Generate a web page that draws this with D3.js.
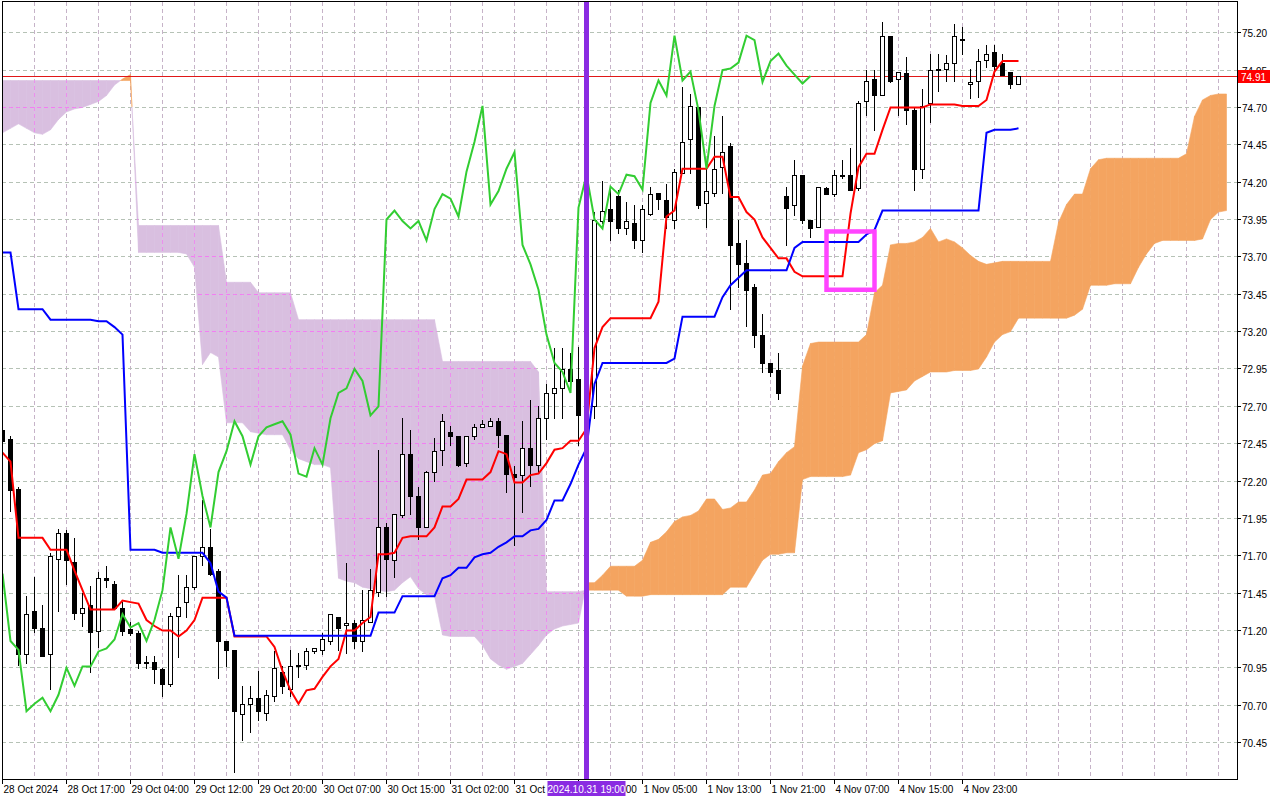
<!DOCTYPE html>
<html lang="en">
<head>
<meta charset="UTF-8">
<title>Ichimoku H1</title>
<script src="https://d3js.org/d3.v7.min.js"></script>
<style>
  body { margin: 0; background: #fff; }
  svg { display: block; font-family: "Liberation Sans", Arial, sans-serif; }
</style>
</head>
<body>
<script>
// hourly candles, bar 0 = 28 Oct 2024 00:00
const open = [72.54,72.48,72.15,71.04,71.33,71.22,71.04,71.68,71.85,71.66,
  71.32,71.37,71.20,71.55,71.51,71.35,71.21,71.18,70.99,70.99,
  70.94,70.84,71.30,71.39,71.49,71.70,71.76,71.60,71.13,71.07,
  70.64,70.71,70.75,70.65,70.76,70.92,70.81,70.97,70.97,71.06,
  71.07,71.13,71.29,71.24,71.25,71.13,71.26,71.46,71.89,71.67,
  71.97,72.38,72.10,71.89,72.26,72.41,72.53,72.50,72.32,72.50,
  72.56,72.57,72.60,72.51,72.25,72.24,72.42,72.31,72.62,72.79,
  72.82,72.95,72.88,72.64,72.70,73.94,74.02,74.11,73.89,73.93,
  73.81,73.99,74.13,74.08,73.95,74.26,74.49,74.70,74.06,74.13,
  74.30,74.44,73.79,73.66,73.50,73.18,72.99,72.94,74.11,74.05,
  74.25,73.95,73.90,74.16,74.12,74.25,74.25,74.16,74.74,74.89,
  74.78,75.18,74.89,74.93,74.68,74.29,74.73,74.96,74.96,75.00,
  75.16,74.86,74.88,75.02,75.07,75.00,74.94,74.86];
const high = [72.56,72.50,72.16,71.43,71.56,71.37,71.72,71.88,71.87,71.82,
  71.45,71.50,71.59,71.63,71.53,71.39,71.26,71.20,71.03,71.03,
  70.95,71.32,71.57,71.57,71.70,72.07,71.88,71.61,71.13,71.07,
  70.83,70.83,70.93,70.80,71.06,70.96,71.07,71.05,71.08,71.08,
  71.18,71.31,71.29,71.65,71.27,71.47,71.61,72.41,71.92,71.98,
  72.62,72.54,72.16,72.27,72.49,72.65,72.57,72.50,72.50,72.58,
  72.61,72.62,72.62,72.51,72.30,72.60,72.74,72.70,72.85,73.09,
  73.09,73.06,73.10,73.00,74.00,74.21,74.16,74.15,74.07,74.05,
  74.05,74.17,74.13,74.19,74.29,74.84,74.79,74.70,74.30,74.51,
  74.64,74.46,73.95,73.81,73.52,73.32,72.99,73.06,74.17,74.35,
  74.25,73.95,74.17,74.17,74.28,74.35,74.43,74.74,74.95,74.95,
  75.27,75.18,74.94,75.04,74.70,74.82,75.06,75.06,75.05,75.26,
  75.24,74.96,75.09,75.12,75.12,75.06,74.94,74.91];
const low = [72.44,72.00,70.97,70.98,71.19,71.03,70.81,71.33,71.51,71.28,
  71.23,70.92,71.09,71.49,71.35,71.17,71.17,70.95,70.95,70.85,
  70.76,70.83,71.02,71.29,71.48,71.64,71.57,70.88,70.96,70.25,
  70.47,70.52,70.60,70.60,70.73,70.78,70.76,70.89,70.94,71.05,
  71.04,71.11,71.07,71.05,71.08,71.06,71.26,71.43,71.43,71.56,
  71.96,71.98,71.81,71.89,72.20,72.31,72.44,72.30,72.30,72.48,
  72.56,72.57,72.43,72.13,71.77,71.99,72.17,72.26,72.48,72.62,
  72.62,72.80,72.44,72.45,72.62,73.93,73.81,73.86,73.85,73.76,
  73.73,73.98,74.02,73.89,73.89,74.26,74.26,74.03,73.90,74.11,
  74.13,73.35,73.50,73.24,73.10,72.93,72.90,72.75,73.78,73.98,
  73.93,73.83,73.90,74.12,74.11,74.23,74.15,74.15,74.65,74.55,
  74.78,74.87,74.65,74.59,74.15,74.23,74.60,74.81,74.88,74.88,
  75.06,74.76,74.77,74.97,74.92,74.92,74.83,74.86];
const close = [72.47,72.14,71.04,71.31,71.22,71.03,71.70,71.85,71.67,71.32,
  71.35,71.19,71.55,71.54,71.35,71.20,71.18,70.98,70.98,70.94,
  70.84,71.30,71.36,71.49,71.70,71.76,71.58,71.13,71.07,70.66,
  70.71,70.75,70.66,70.77,70.95,70.83,70.96,70.96,71.06,71.08,
  71.14,71.31,71.22,71.25,71.13,71.27,71.47,71.89,71.68,71.98,
  72.38,72.10,71.89,72.26,72.40,72.60,72.50,72.31,72.50,72.56,
  72.58,72.60,72.51,72.25,72.23,72.42,72.31,72.62,72.79,72.82,
  72.95,72.87,72.64,72.70,73.95,74.01,73.94,73.89,73.94,73.81,
  74.02,74.12,74.09,73.97,74.27,74.47,74.71,74.05,74.14,74.29,
  74.40,73.78,73.65,73.48,73.18,72.99,72.93,72.79,74.03,74.25,
  73.95,73.89,74.17,74.12,74.25,74.24,74.15,74.73,74.88,74.78,
  75.18,74.88,74.94,74.68,74.29,74.71,74.95,74.96,75.00,75.18,
  75.15,74.87,75.01,75.06,74.98,74.92,74.86,74.91];

// Tenkan-sen (red) and Kijun-sen (blue), one value per candle
const tenkan = [72.39,72.33,71.82,71.82,71.82,71.82,71.74,71.74,71.74,71.60,
  71.47,71.34,71.34,71.34,71.34,71.40,71.39,71.38,71.27,71.23,
  71.20,71.20,71.16,71.20,71.27,71.42,71.42,71.42,71.42,71.16,
  71.16,71.16,71.16,71.16,71.09,70.93,70.80,70.71,70.80,70.81,
  70.89,70.96,71.01,71.20,71.20,71.25,71.29,71.71,71.71,71.72,
  71.82,71.83,71.83,71.83,71.89,72.03,72.03,72.08,72.21,72.21,
  72.21,72.26,72.40,72.38,72.19,72.19,72.24,72.25,72.32,72.41,
  72.42,72.47,72.47,72.55,73.09,73.23,73.29,73.29,73.29,73.29,
  73.29,73.29,73.40,73.97,74.01,74.29,74.29,74.29,74.29,74.37,
  74.37,74.10,74.10,74.00,73.95,73.83,73.76,73.69,73.69,73.60,
  73.57,73.57,73.57,73.57,73.57,73.57,73.99,74.30,74.39,74.39,
  74.55,74.70,74.70,74.70,74.70,74.70,74.72,74.72,74.72,74.72,
  74.71,74.71,74.71,74.75,74.94,75.01,75.01,75.01];
const kijun = [73.73,73.73,73.35,73.35,73.35,73.35,73.28,73.28,73.28,73.28,
  73.28,73.28,73.27,73.27,73.23,73.18,71.74,71.74,71.74,71.74,
  71.72,71.72,71.72,71.72,71.72,71.72,71.65,71.46,71.42,71.165,
  71.165,71.165,71.165,71.165,71.165,71.165,71.165,71.165,71.165,71.165,
  71.165,71.165,71.165,71.165,71.165,71.165,71.165,71.32,71.32,71.32,
  71.43,71.43,71.43,71.43,71.43,71.55,71.57,71.62,71.62,71.69,
  71.71,71.72,71.76,71.79,71.83,71.83,71.87,71.88,71.94,72.07,
  72.07,72.18,72.31,72.42,72.85,72.99,72.99,72.99,72.99,72.99,
  72.99,72.99,72.99,72.99,73.02,73.30,73.30,73.30,73.30,73.30,
  73.43,73.51,73.56,73.61,73.61,73.61,73.61,73.61,73.61,73.76,
  73.80,73.80,73.80,73.80,73.80,73.80,73.80,73.80,73.85,73.88,
  74.01,74.01,74.01,74.01,74.01,74.01,74.01,74.01,74.01,74.01,
  74.01,74.01,74.01,74.53,74.55,74.55,74.55,74.56];

// Senkou spans, already shifted 26 bars ahead (bars 0..153)
const spanA = [74.53,74.56,74.59,74.56,74.53,74.52,74.55,74.62,74.67,74.69,
  74.70,74.72,74.74,74.78,74.85,74.89,74.92,73.73,73.73,73.73,
  73.73,73.73,73.73,73.72,73.63,72.98,73.06,73.03,72.59,72.59,
  72.59,72.53,72.52,72.51,72.51,72.51,72.41,72.35,72.33,72.31,
  72.31,72.29,71.55,71.53,71.52,71.49,71.48,71.47,71.46,71.47,
  71.52,71.56,71.48,71.44,71.43,71.17,71.16,71.16,71.16,71.16,
  71.10,71.01,70.97,70.94,70.96,70.98,71.04,71.10,71.17,71.21,
  71.23,71.24,71.25,71.52,71.52,71.57,71.63,71.63,71.63,71.63,
  71.67,71.79,71.81,71.86,71.93,71.96,71.97,72.00,72.08,72.08,
  72.01,72.02,72.06,72.06,72.14,72.24,72.25,72.33,72.39,72.43,
  72.97,73.12,73.13,73.13,73.13,73.13,73.13,73.13,73.18,73.46,
  73.51,73.78,73.79,73.79,73.80,73.83,73.89,73.80,73.82,73.80,
  73.76,73.71,73.67,73.65,73.66,73.67,73.67,73.67,73.67,73.67,
  73.67,73.67,73.93,74.05,74.12,74.12,74.29,74.35,74.36,74.36,
  74.36,74.36,74.36,74.36,74.36,74.36,74.36,74.36,74.39,74.64,
  74.75,74.78,74.79,74.79];
const spanB = [74.88,74.88,74.88,74.88,74.88,74.88,74.88,74.88,74.88,74.88,
  74.88,74.88,74.88,74.88,74.88,74.88,74.88,73.91,73.91,73.91,
  73.91,73.91,73.91,73.91,73.91,73.91,73.91,73.91,73.53,73.53,
  73.53,73.53,73.46,73.46,73.46,73.46,73.46,73.28,73.28,73.28,
  73.28,73.28,73.28,73.28,73.28,73.28,73.28,73.28,73.28,73.28,
  73.28,73.28,73.28,73.28,73.28,73.00,73.00,73.00,73.00,73.00,
  73.00,73.00,73.00,73.00,73.00,73.00,73.00,72.93,71.46,71.46,
  71.46,71.46,71.46,71.47,71.47,71.47,71.47,71.47,71.43,71.43,
  71.43,71.44,71.44,71.44,71.44,71.44,71.44,71.44,71.44,71.44,
  71.44,71.49,71.49,71.49,71.58,71.67,71.71,71.71,71.72,71.72,
  72.21,72.23,72.23,72.23,72.23,72.23,72.24,72.39,72.41,72.45,
  72.47,72.79,72.80,72.81,72.87,72.90,72.93,72.93,72.93,72.94,
  72.94,72.94,72.95,73.03,73.13,73.18,73.20,73.29,73.29,73.29,
  73.29,73.29,73.29,73.29,73.31,73.35,73.51,73.51,73.51,73.52,
  73.52,73.52,73.63,73.72,73.79,73.81,73.81,73.81,73.81,73.81,
  73.82,73.95,74.00,74.01];

const chikouShift = 26;   // Chikou span = close drawn 26 bars back

const priceTicks = [70.45,70.70,70.95,71.20,71.45,71.70,71.95,72.20,72.45,72.70,
  72.95,73.20,73.45,73.70,73.95,74.20,74.45,74.70,74.95,75.20];
const timeTickBars = [0,8,16,24,32,40,48,56,64,72,80,88,96,104,112,120];
const timeTickLabels = ["28 Oct 2024","28 Oct 17:00","29 Oct 04:00","29 Oct 12:00",
  "29 Oct 20:00","30 Oct 07:00","30 Oct 15:00","31 Oct 02:00","31 Oct 10:00",
  "31 Oct 18:00","1 Nov 05:00","1 Nov 13:00","1 Nov 21:00","4 Nov 07:00",
  "4 Nov 15:00","4 Nov 23:00"];

const lastPrice = 74.91;
const markBar = 73, markLabel = "2024.10.31 19:00";
const boxBars = [103, 109], boxPrices = [73.87, 73.48];

const W = 1280, H = 800;
const L = 2, T = 2, R = 1237, B = 779;

const svg = d3.select("body").append("svg").attr("width", W).attr("height", H);
svg.append("rect").attr("width", W).attr("height", H).attr("fill", "#fff");

const x = d3.scaleLinear().domain([0, 153]).range([2.5, 2.5 + 8 * 153]);
const y = d3.scaleLinear().domain([70.45, 75.20]).range([742.6, 32.7]);
const cy = p => Math.floor(y(p)) + 0.5;

const defs = svg.append("defs");
defs.append("clipPath").attr("id", "plot")
  .append("rect").attr("x", L).attr("y", T).attr("width", R - L).attr("height", B - T);

const plot = svg.append("g").attr("clip-path", "url(#plot)");

// grid
function grid(g, vCol, hCol) {
  g.selectAll(".gv").data(d3.range(4, 154, 4)).join("line")
    .attr("x1", d => x(d)).attr("x2", d => x(d)).attr("y1", T).attr("y2", B)
    .attr("stroke", vCol).attr("stroke-dasharray", "4,3");
  g.selectAll(".gh").data(priceTicks).join("line")
    .attr("x1", L).attr("x2", R).attr("y1", d => cy(d)).attr("y2", d => cy(d))
    .attr("stroke", hCol).attr("stroke-dasharray", "4,3");
}
grid(plot.append("g").attr("shape-rendering", "crispEdges"), "#c6b3c8", "#b6c2b6");

// cloud pieces between bar i and i+1, split where the spans cross
const pieces = [];
for (let i = 0; i < spanA.length - 1; i++) {
  const a0 = spanA[i], a1 = spanA[i + 1], b0 = spanB[i], b1 = spanB[i + 1];
  const d0 = a0 - b0, d1 = a1 - b1;
  if (d0 * d1 >= 0) {
    pieces.push({ up: d0 + d1 >= 0, pts: [[i, a0], [i + 1, a1], [i + 1, b1], [i, b0]] });
  } else {
    const t = d0 / (d0 - d1), xi = i + t, yi = a0 + (a1 - a0) * t;
    pieces.push({ up: d0 > 0, pts: [[i, a0], [xi, yi], [i, b0]] });
    pieces.push({ up: d1 > 0, pts: [[xi, yi], [i + 1, a1], [i + 1, b1]] });
  }
}
const pts = d => d.pts.map(([i, p]) => x(i) + "," + y(p)).join(" ");
const colUp = "#f4a460", colDown = "#d9bfe0";

plot.append("g").selectAll("polygon").data(pieces).join("polygon")
  .attr("points", pts)
  .attr("fill", d => d.up ? colUp : colDown)
  .attr("stroke", d => d.up ? colUp : colDown).attr("stroke-width", 0.6);

// grid shows through the thistle cloud in pink
defs.append("clipPath").attr("id", "lav").selectAll("polygon")
  .data(pieces.filter(d => !d.up)).join("polygon").attr("points", pts);
grid(plot.append("g").attr("clip-path", "url(#lav)").attr("shape-rendering", "crispEdges"),
  "#f27ef2", "#f27ef2");

// bid line
plot.append("line").attr("x1", L).attr("x2", R)
  .attr("y1", cy(lastPrice)).attr("y2", cy(lastPrice))
  .attr("stroke", "#e01818").attr("shape-rendering", "crispEdges");

// candles
const bars = close.map((c, i) => ({ i, o: open[i], h: high[i], l: low[i], c }));
const cg = plot.append("g").attr("shape-rendering", "crispEdges");
cg.selectAll("line").data(bars).join("line")
  .attr("x1", d => x(d.i)).attr("x2", d => x(d.i))
  .attr("y1", d => Math.round(y(d.h))).attr("y2", d => Math.round(y(d.l)) + 1)
  .attr("stroke", "#000");
cg.selectAll("rect").data(bars).join("rect")
  .attr("x", d => x(d.i) - 2)
  .attr("y", d => Math.round(y(Math.max(d.o, d.c))) + 0.5)
  .attr("width", 4)
  .attr("height", d => Math.max(1, Math.round(y(Math.min(d.o, d.c))) - Math.round(y(Math.max(d.o, d.c)))))
  .attr("fill", d => d.c >= d.o ? "#fff" : "#000")
  .attr("stroke", "#000");

// indicator lines
const line = d3.line().x((d, i) => x(i)).y(d => y(d));
plot.append("path").attr("d", line(tenkan)).attr("fill", "none").attr("stroke", "#ff0000").attr("stroke-width", 2);
plot.append("path").attr("d", line(kijun)).attr("fill", "none").attr("stroke", "#0000ff").attr("stroke-width", 2);
plot.append("path").attr("d", line(close.slice(chikouShift))).attr("fill", "none")
  .attr("stroke", "#32cd32").attr("stroke-width", 2);

// vertical marker at 31 Oct 19:00
plot.append("line").attr("x1", x(markBar)).attr("x2", x(markBar)).attr("y1", T).attr("y2", B)
  .attr("stroke", "#8a2be2").attr("stroke-width", 5);

// highlighted box
plot.append("rect")
  .attr("x", x(boxBars[0])).attr("y", y(boxPrices[0]))
  .attr("width", x(boxBars[1]) - x(boxBars[0]))
  .attr("height", y(boxPrices[1]) - y(boxPrices[0]))
  .attr("fill", "none").attr("stroke", "#ff44ff").attr("stroke-width", 4.5);

// frame and axes
svg.append("rect").attr("x", L + 0.5).attr("y", T - 0.5).attr("width", R - L).attr("height", B - T + 1)
  .attr("fill", "none").attr("stroke", "#000").attr("shape-rendering", "crispEdges");

const ay = svg.append("g").attr("shape-rendering", "crispEdges");
ay.selectAll("line").data(priceTicks).join("line")
  .attr("x1", R).attr("x2", R + 4).attr("y1", d => cy(d)).attr("y2", d => cy(d)).attr("stroke", "#000");
svg.append("g").selectAll("text").data(priceTicks).join("text")
  .attr("x", R + 5).attr("y", d => cy(d) + 4)
  .attr("font-size", 10).attr("fill", "#000").text(d => d.toFixed(2));

const ax = svg.append("g").attr("shape-rendering", "crispEdges");
ax.selectAll("line").data(timeTickBars).join("line")
  .attr("x1", d => Math.floor(x(d)) + 0.5).attr("x2", d => Math.floor(x(d)) + 0.5)
  .attr("y1", B).attr("y2", B + 5).attr("stroke", "#000");
svg.append("g").selectAll("text").data(timeTickBars).join("text")
  .attr("x", d => x(d) + 1).attr("y", B + 14)
  .attr("font-size", 10).attr("fill", "#000").text((d, k) => timeTickLabels[k]);

// last price tag
const ly = cy(lastPrice);
svg.append("rect").attr("x", R + 1).attr("y", ly - 6.5).attr("width", 32).attr("height", 13).attr("fill", "#f00");
svg.append("text").attr("x", R + 4).attr("y", ly + 4).attr("font-size", 10).attr("fill", "#fff")
  .text(lastPrice.toFixed(2));

// marker time tag
const mx = x(markBar);
svg.append("rect").attr("x", mx - 39).attr("y", B + 2).attr("width", 78).attr("height", 15).attr("fill", "#8a2be2");
svg.append("text").attr("x", mx).attr("y", B + 14).attr("text-anchor", "middle")
  .attr("font-size", 10).attr("fill", "#fff").text(markLabel);
</script>
</body>
</html>
